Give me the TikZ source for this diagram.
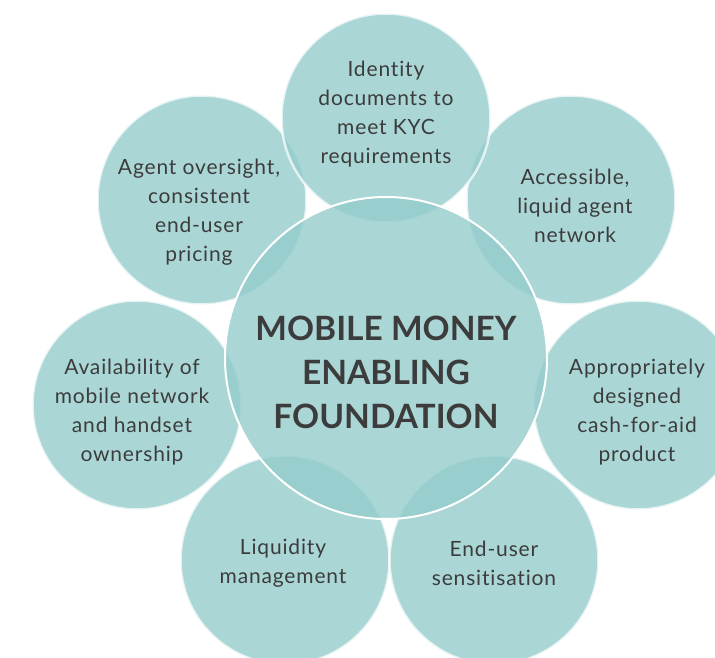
\documentclass[tikz,border=0pt]{standalone}
\usepackage{fontspec}
\setmainfont{Lato}
\newfontfamily\petalfont{Lato}[LetterSpace=4, Ligatures=NoCommon]
\definecolor{petalteal}{RGB}{149,204,204}
\definecolor{inkgrey}{RGB}{60,60,60}
\tikzset{
  petal/.style={circle, minimum size=209pt, inner sep=0pt, fill=petalteal, fill opacity=0.8,
    draw=white, draw opacity=0.7, line width=2.5pt},
  hub/.style={circle, minimum size=322pt, inner sep=0pt, fill=petalteal, fill opacity=0.8,
    draw=white, line width=2pt},
  petaltext/.style={align=center, text=inkgrey, font=\petalfont\fontsize{21}{29}\selectfont},
  hubtext/.style={align=center, text=inkgrey, font=\fontsize{33.5}{44}\selectfont\bfseries}
}

\begin{document}
\begin{tikzpicture}[x=1pt, y=-1pt]
    \useasboundingbox (0,0) rectangle (715,658);
    \clip (0,0) rectangle (715,658);
    % outer circles
    \node [petal] (oversight) at (202,200) {};
    \node [petal] (agents) at (571,200) {};
    \node [petal] (kyc) at (386,118) {};
    \node [petal] (network) at (137,405) {};
    \node [petal] (product) at (638,405) {};
    \node [petal] (liquidity) at (285,560) {};
    \node [petal] (sensitise) at (494,560) {};
    % centre
    \node [hub] (hub) at (386,358) {};
    % texts
    \node [petaltext] (kyctext) at (386,114) {Identity\\documents to\\meet KYC\\requirements};
    \node [petaltext] (oversighttext) at (199,212) {Agent oversight,\\consistent\\end-user\\pricing};
    \node [petaltext] (agentstext) at (575,206) {Accessible,\\liquid agent\\network};
    \node [petaltext] (networktext) at (132,412) {Availability of\\mobile network\\and handset\\ownership};
    \node [petaltext] (producttext) at (637,412) {Appropriately\\designed\\cash-for-aid\\product};
    \node [petaltext] (liquiditytext) at (283,563) {Liquidity\\management};
    \node [petaltext] (sensitisetext) at (494,563) {End-user\\sensitisation};
    \node [hubtext] (hubtext) at (386,372) {MOBILE MONEY\\ENABLING\\FOUNDATION};
\end{tikzpicture}
\end{document}
